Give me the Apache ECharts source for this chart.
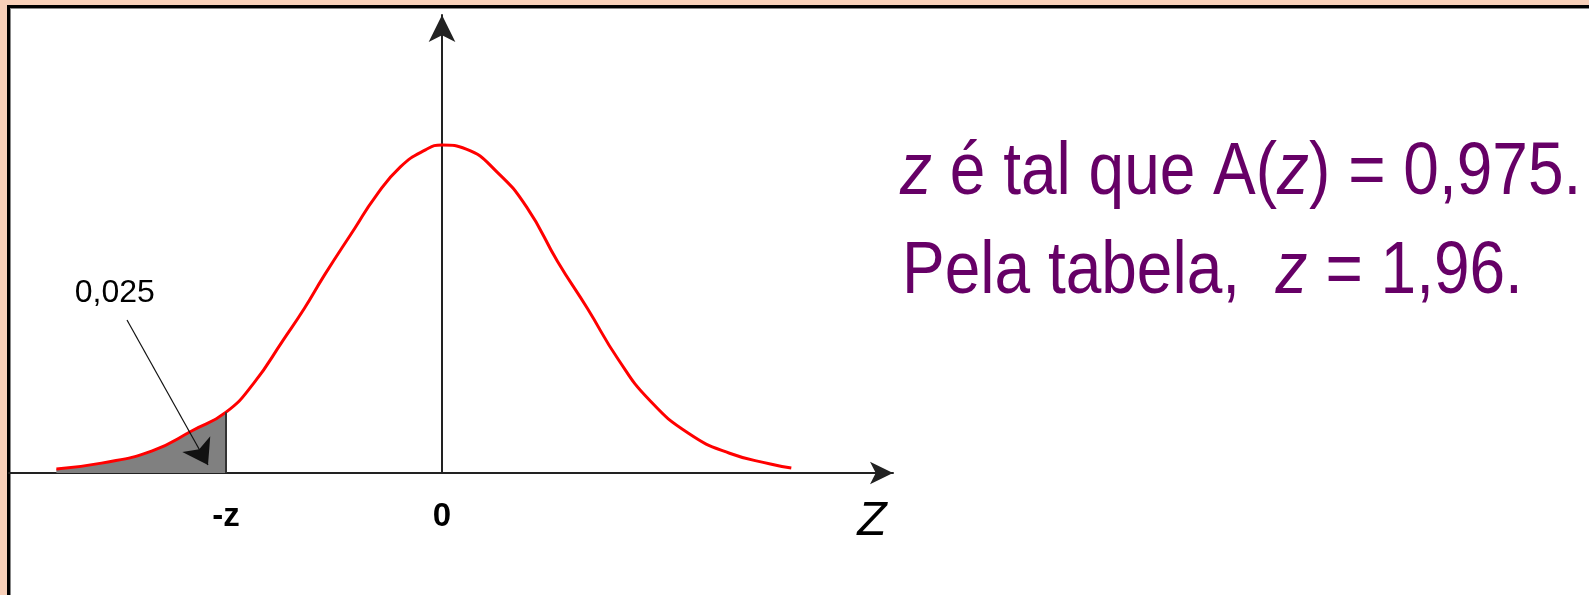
<!DOCTYPE html>
<html>
<head>
<meta charset="utf-8">
<script src="https://cdn.jsdelivr.net/npm/echarts@6/dist/echarts.min.js"></script>
<style>
  html, body { margin: 0; padding: 0; background: #f8d0b9; }
  #chart { width: 1589px; height: 595px; }
</style>
</head>
<body>
<div id="chart"></div>
<script>
// Standard normal curve, sampled point by point (z, height)
const zValues = [-3.5, -3.09, -2.63, -2.26, -1.96, -1.71, -1.44, -1.25, -1.07, -0.79, -0.61, -0.38, -0.15,
                 0, 0.22, 0.5, 0.77, 1.05, 1.32, 1.6, 1.88, 2.24, 2.61, 2.98, 3.17];
const densityValues = [0.005, 0.012, 0.027, 0.052, 0.074, 0.109, 0.162, 0.200, 0.240, 0.298, 0.335, 0.372, 0.393,
                       0.399, 0.394, 0.366, 0.323, 0.257, 0.200, 0.138, 0.089, 0.048, 0.024, 0.011, 0.006];

// Left tail cut-off and its area
const zCut = -1.96;
const tailAreaLabel = '0,025';

// Tick labels on the horizontal axis
const tickValues = [-1.96, 0];
const tickLabels = ['-z', '0'];
const axisName = 'Z';

// Notes to the right of the plot (rich text, {i|..} is italic)
const noteLines = [
  '{i|z} é tal que A({i|z}) = 0,975.',
  'Pela tabela,  {i|z} = 1,96.'
];

const curveData = zValues.map((z, i) => [z, densityValues[i]]);
const tailData = curveData.filter(p => p[0] <= zCut + 1e-9);
const cutHeight = densityValues[zValues.indexOf(zCut)];

const chart = echarts.init(document.getElementById('chart'), null, { renderer: 'canvas' });

const sans = '"Liberation Sans", Arial, sans-serif';
const noteFont = { fontSize: 64, fontFamily: sans, fill: '#660066' };

chart.setOption({
  backgroundColor: '#f8d0b9',
  animation: false,
  grid: { left: 9, top: 15, width: 884, bottom: 122, containLabel: false },
  xAxis: {
    type: 'value',
    min: -3.93,
    max: 4.093,
    axisLine: {
      show: true, onZero: false,
      symbol: ['none', 'arrow'], symbolSize: [17, 23],
      lineStyle: { color: '#222', width: 2 }
    },
    axisTick: { show: false },
    splitLine: { show: false },
    axisLabel: {
      customValues: tickValues,
      margin: 27,
      fontSize: 33, fontWeight: 'bold', color: '#000',
      fontFamily: sans,
      formatter: function (v) {
        let best = 0;
        tickValues.forEach((t, i) => { if (Math.abs(t - v) < Math.abs(tickValues[best] - v)) best = i; });
        return tickLabels[best];
      }
    }
  },
  yAxis: {
    type: 'value',
    min: 0,
    max: 0.557,
    axisLine: {
      show: true, onZero: true,
      symbol: ['none', 'arrow'], symbolSize: [20, 27],
      lineStyle: { color: '#222', width: 2 }
    },
    axisTick: { show: false },
    axisLabel: { show: false },
    splitLine: { show: false }
  },
  graphic: [
    { type: 'rect', z: -10, silent: true, shape: { x: 9, y: 8, width: 1580, height: 587 }, style: { fill: '#ffffff' } },
    { type: 'rect', z: -9, silent: true, shape: { x: 7, y: 5, width: 1582, height: 3 }, style: { fill: '#000' } },
    { type: 'rect', z: -9, silent: true, shape: { x: 7, y: 5, width: 3, height: 590 }, style: { fill: '#000' } },
    { type: 'rect', z: -9, silent: true, shape: { x: 10, y: 8, width: 1579, height: 1 }, style: { fill: '#888' } },
    { type: 'rect', z: -9, silent: true, shape: { x: 10, y: 8, width: 1, height: 587 }, style: { fill: '#888' } },
    {
      type: 'text', x: 872, y: 522, z: 10, silent: true,
      style: { text: axisName, fontSize: 48, fontStyle: 'italic', fontFamily: sans, fill: '#000',
        align: 'center', verticalAlign: 'middle' }
    },
    {
      type: 'text', x: 900, y: 174, scaleY: 1.15, z: 10, silent: true,
      style: Object.assign({ text: noteLines[0], verticalAlign: 'middle', align: 'left',
        rich: { i: Object.assign({ fontStyle: 'italic' }, noteFont) } }, noteFont)
    },
    {
      type: 'text', x: 902, y: 273, scaleY: 1.15, z: 10, silent: true,
      style: Object.assign({ text: noteLines[1], verticalAlign: 'middle', align: 'left',
        rich: { i: Object.assign({ fontStyle: 'italic' }, noteFont) } }, noteFont)
    }
  ],
  series: [
    {
      name: 'tail',
      type: 'line',
      data: tailData,
      smooth: true,
      symbol: 'none',
      z: 1,
      lineStyle: { width: 0 },
      areaStyle: { color: '#808080', opacity: 1 },
      markLine: {
        silent: true,
        symbol: ['none', 'none'],
        label: { show: false },
        lineStyle: { color: '#333', width: 2, type: 'solid' },
        data: [[{ coord: [zCut, 0] }, { coord: [zCut, cutHeight] }]]
      }
    },
    {
      name: 'curve',
      type: 'line',
      data: curveData,
      smooth: true,
      symbol: 'none',
      z: 3,
      lineStyle: { color: '#ff0000', width: 3 },
      markLine: {
        silent: true,
        symbol: ['none', 'arrow'],
        symbolSize: 24,
        label: { show: false },
        lineStyle: { color: '#111', width: 1.2, type: 'solid' },
        data: [[{ coord: [-2.859, 0.186] }, { coord: [-2.124, 0.0097] }]]
      },
      markPoint: {
        silent: true,
        symbol: 'circle',
        symbolSize: 0,
        label: {
          show: true, position: 'inside', formatter: tailAreaLabel,
          fontSize: 32, color: '#000',
          fontFamily: sans
        },
        data: [{ coord: [-2.97, 0.219] }]
      }
    }
  ]
});
</script>
</body>
</html>
